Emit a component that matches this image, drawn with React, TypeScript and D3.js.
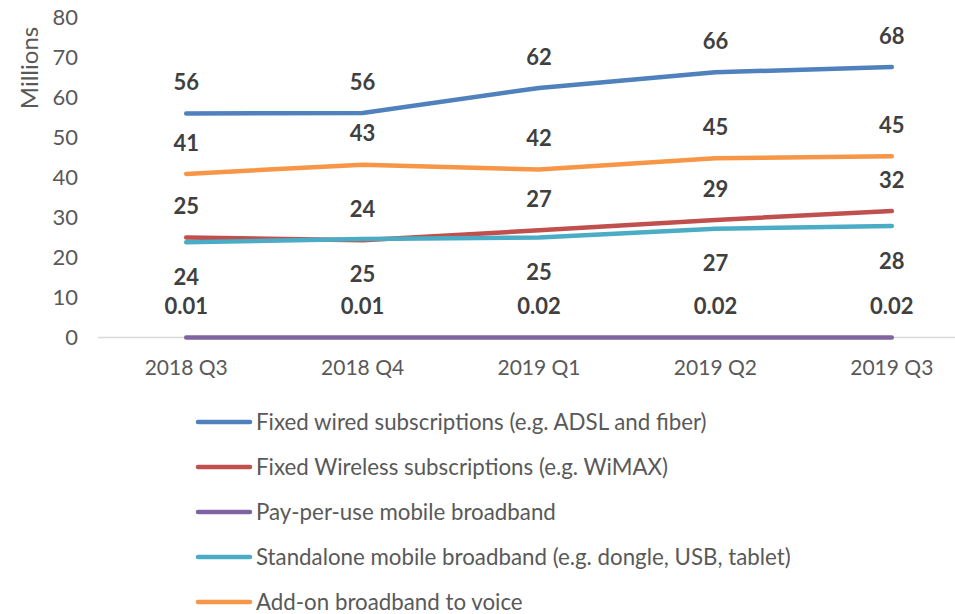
import { useEffect, useRef } from "react";
import * as d3 from "d3";

// Data
const quarters = ["2018 Q3", "2018 Q4", "2019 Q1", "2019 Q2", "2019 Q3"];

const fixedWired = [56.0, 56.1, 62.4, 66.3, 67.6];
const fixedWireless = [25.0, 24.3, 26.8, 29.4, 31.6];
const payPerUse = [0.01, 0.01, 0.02, 0.02, 0.02];
const standalone = [23.8, 24.6, 25.0, 27.2, 27.9];
const addOn = [40.9, 43.2, 42.0, 44.8, 45.3];

const seriesNames = [
  "Fixed wired subscriptions (e.g. ADSL and fiber)",
  "Fixed Wireless subscriptions (e.g. WiMAX)",
  "Pay-per-use mobile broadband",
  "Standalone mobile broadband (e.g. dongle, USB, tablet)",
  "Add-on broadband to voice",
];

const yTicks = [0, 10, 20, 30, 40, 50, 60, 70, 80];

export default function App() {
  const ref = useRef<SVGSVGElement>(null);

  useEffect(() => {
    if (!ref.current) return;
    const svg = d3.select(ref.current);
    svg.selectAll("*").remove();

    const font = "Lato, 'Open Sans', sans-serif";

    const series = [
      { name: seriesNames[0], values: fixedWired, color: "#4f81bd", below: false, fmt: (v: number) => d3.format(".0f")(v) },
      { name: seriesNames[1], values: fixedWireless, color: "#c0504d", below: false, fmt: (v: number) => d3.format(".0f")(v) },
      { name: seriesNames[2], values: payPerUse, color: "#8064a2", below: false, fmt: (v: number) => d3.format(".2f")(v) },
      { name: seriesNames[3], values: standalone, color: "#4bacc6", below: true, fmt: (v: number) => d3.format(".0f")(v) },
      { name: seriesNames[4], values: addOn, color: "#f79646", below: false, fmt: (v: number) => d3.format(".0f")(v) },
    ];

    const x = d3.scaleBand().domain(quarters).range([98, 980]).padding(0);
    const y = d3.scaleLinear().domain([0, 80]).range([337.5, 17.5]);
    const cx = (q: string) => (x(q) as number) + x.bandwidth() / 2;

    // Y tick labels
    svg
      .append("g")
      .selectAll("text")
      .data(yTicks)
      .enter()
      .append("text")
      .attr("x", 78)
      .attr("y", (d) => y(d))
      .attr("dy", "0.35em")
      .attr("text-anchor", "end")
      .attr("font-family", font)
      .attr("font-size", 22)
      .attr("fill", "#595959")
      .text((d) => d);

    // Y axis title
    svg
      .append("text")
      .attr("transform", "translate(38,68) rotate(-90)")
      .attr("text-anchor", "middle")
      .attr("font-family", font)
      .attr("font-size", 24)
      .attr("fill", "#595959")
      .text("Millions");

    // X axis line
    svg
      .append("line")
      .attr("x1", 98)
      .attr("x2", 980)
      .attr("y1", y(0))
      .attr("y2", y(0))
      .attr("stroke", "#d9d9d9")
      .attr("stroke-width", 1.5);

    // X tick labels
    svg
      .append("g")
      .selectAll("text")
      .data(quarters)
      .enter()
      .append("text")
      .attr("x", (d) => cx(d))
      .attr("y", 368)
      .attr("dy", "0.35em")
      .attr("text-anchor", "middle")
      .attr("font-family", font)
      .attr("font-size", 21)
      .attr("fill", "#595959")
      .text((d) => d);

    const line = d3
      .line<number>()
      .x((_, i) => cx(quarters[i]))
      .y((d) => y(d));

    // Lines
    series.forEach((s) => {
      svg
        .append("path")
        .attr("d", line(s.values))
        .attr("fill", "none")
        .attr("stroke", s.color)
        .attr("stroke-width", 4.5)
        .attr("stroke-linecap", "round")
        .attr("stroke-linejoin", "round");
    });

    // Data labels
    series.forEach((s) => {
      svg
        .append("g")
        .selectAll("text")
        .data(s.values)
        .enter()
        .append("text")
        .attr("x", (_, i) => cx(quarters[i]))
        .attr("y", (d) => y(d) + (s.below ? 35 : -31))
        .attr("dy", "0.35em")
        .attr("text-anchor", "middle")
        .attr("font-family", font)
        .attr("font-weight", "bold")
        .attr("font-size", 22)
        .attr("fill", "#404040")
        .text((d) => s.fmt(d));
    });

    // Legend
    const legend = svg
      .append("g")
      .selectAll("g")
      .data(series)
      .enter()
      .append("g")
      .attr("transform", (_, i) => `translate(0,${422 + i * 45})`);

    legend
      .append("line")
      .attr("x1", 198)
      .attr("x2", 250)
      .attr("stroke", (d) => d.color)
      .attr("stroke-width", 4.5)
      .attr("stroke-linecap", "round");

    legend
      .append("text")
      .attr("x", 256)
      .attr("dy", "0.35em")
      .attr("font-family", font)
      .attr("font-size", 22.3)
      .attr("fill", "#595959")
      .text((d) => d.name);
  }, []);

  return (
    <svg
      ref={ref}
      width={955}
      height={614}
      style={{ position: "absolute", left: 0, top: 0, background: "#fff" }}
    />
  );
}
